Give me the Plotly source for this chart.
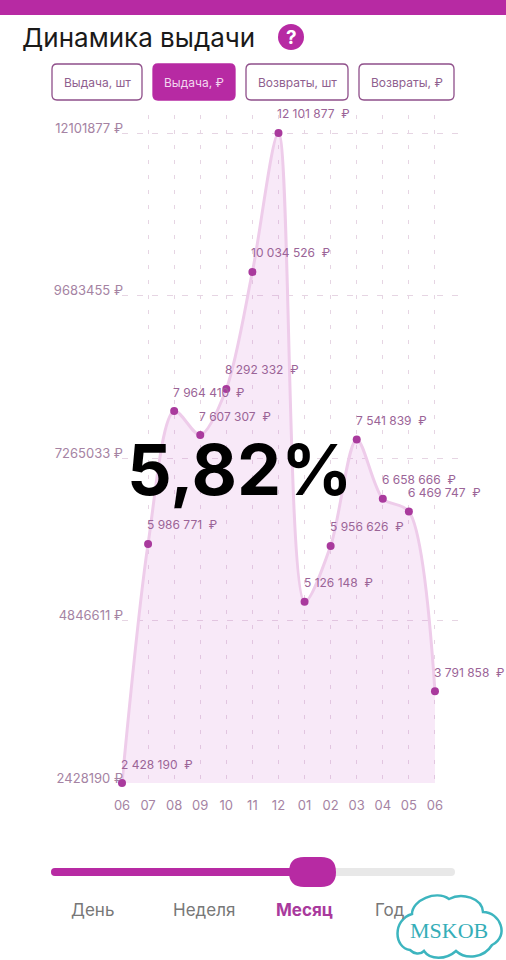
import plotly.graph_objects as go

W, H = 506, 960

months = ["06", "07", "08", "09", "10", "11", "12", "01", "02", "03", "04", "05", "06"]
values = [2428190, 5986771, 7964410, 7607307, 8292332, 10034526, 12101877,
          5126148, 5956626, 7541839, 6658666, 6469747, 3791858]
point_labels = ["2 428 190  ₽", "5 986 771  ₽", "7 964 410  ₽", "7 607 307  ₽", "8 292 332  ₽",
                "10 034 526  ₽", "12 101 877  ₽", "5 126 148  ₽", "5 956 626  ₽", "7 541 839  ₽",
                "6 658 666  ₽", "6 469 747  ₽", "3 791 858  ₽"]
y_ticks = [2428190, 4846611, 7265033, 9683455, 12101877]
y_tick_labels = ["2428190 ₽", "4846611 ₽", "7265033 ₽", "9683455 ₽", "12101877 ₽"]
buttons = ["Выдача, шт", "Выдача, ₽", "Возвраты, шт", "Возвраты, ₽"]
periods = ["День", "Неделя", "Месяц", "Год"]

MAGENTA = "#b72aa3"
TXT = "#9b6497"
FONT = "Inter, Roboto, sans-serif"


def px(x):
    return x / W


def py(y):
    return 1 - y / H


def rr(x0, y0, x1, y1, r):
    return (f"M {px(x0+r)} {py(y0)} L {px(x1-r)} {py(y0)} Q {px(x1)} {py(y0)} {px(x1)} {py(y0+r)} "
            f"L {px(x1)} {py(y1-r)} Q {px(x1)} {py(y1)} {px(x1-r)} {py(y1)} "
            f"L {px(x0+r)} {py(y1)} Q {px(x0)} {py(y1)} {px(x0)} {py(y1-r)} "
            f"L {px(x0)} {py(y0+r)} Q {px(x0)} {py(y0)} {px(x0+r)} {py(y0)} Z")


def note(x, y, text, size, color, anchor="center", family=FONT, bold=False):
    t = f"<b>{text}</b>" if bold else text
    return dict(xref="paper", yref="paper", x=px(x), y=py(y), text=t, showarrow=False,
                xanchor=anchor, yanchor="middle", align="left",
                font=dict(size=size, color=color, family=family))


def box(x0, y0, x1, y1, r, fill, line="rgba(0,0,0,0)", width=0):
    return dict(type="path", xref="paper", yref="paper", path=rr(x0, y0, x1, y1, r),
                fillcolor=fill, line=dict(color=line, width=width))


fig = go.Figure()
fig.add_trace(go.Scatter(
    x=list(range(len(values))), y=values, mode="lines+markers",
    line=dict(shape="spline", smoothing=0.85, color="#eeccea", width=3),
    marker=dict(size=8, color="#a93a9d"),
    fill="tozeroy", fillcolor="rgba(205,110,205,0.15)",
    cliponaxis=False, hoverinfo="skip", showlegend=False,
))

annotations = []
for i, (v, lab) in enumerate(zip(values, point_labels)):
    annotations.append(dict(x=i, y=v, xref="x", yref="y", text=lab, showarrow=False,
                            xanchor="left", yanchor="middle", xshift=-3, yshift=19,
                            font=dict(size=12, color=TXT, family=FONT)))

annotations.append(note(20, 38, "Динамика выдачи", 26, "#1a1a1a", "left", FONT))
annotations.append(note(291, 37, "?", 19, "white", "center", FONT, True))
annotations.append(note(239, 469, "5,82%", 70, "#000000", "center", FONT, True))

shapes = [
    dict(type="rect", xref="paper", yref="paper", x0=0, x1=1, y0=py(15), y1=1,
         fillcolor=MAGENTA, line=dict(width=0)),
    dict(type="circle", xref="paper", yref="paper", x0=px(278), x1=px(304), y0=py(50), y1=py(24),
         fillcolor=MAGENTA, line=dict(width=0)),
]

btn_boxes = [(52, 142), (153, 235), (246, 348), (359, 454)]
for i, (name, (a, b)) in enumerate(zip(buttons, btn_boxes)):
    active = i == 1
    shapes.append(box(a, 64, b, 100, 5, MAGENTA if active else "white",
                      MAGENTA if active else "#8f4f8a", 1.3))
    annotations.append(note((a + b) / 2, 82, name, 12, "#f3d6ef" if active else "#8f5f8f"))

shapes.append(box(51, 868, 455, 876, 4, "#e8e8e8"))
shapes.append(box(51, 868, 300, 876, 4, MAGENTA))
shapes.append(box(289, 857, 336, 887, 15, MAGENTA))

for name, x, active in zip(periods, [92, 204, 304, 390], [False, False, True, False]):
    annotations.append(note(x, 910, name, 17, "#a93a9d" if active else "#777777", bold=active))

cloud = "M {} {} " + " ".join(["C {} {} {} {} {} {}"] * 7) + " Z"
cloud_pts = [(410, 950), (394, 948), (392, 920), (412, 914),
             (412, 900), (436, 890), (449, 899),
             (462, 892), (482, 898), (483, 912),
             (500, 912), (510, 936), (492, 945),
             (484, 958), (466, 960), (456, 951),
             (446, 960), (430, 960), (424, 951),
             (420, 955), (414, 954), (410, 950)]
coords = []
for (a, b) in cloud_pts:
    coords += [px(a), py(b)]
shapes.append(dict(type="path", xref="paper", yref="paper", path=cloud.format(*coords),
                   fillcolor="white", line=dict(color="#3db5bf", width=2.5)))
annotations.append(note(449, 930, "MSKOB", 22, "#35aeb8", "center", "Liberation Serif, serif"))

fig.update_layout(
    width=W, height=H, autosize=False,
    margin=dict(l=0, r=0, t=0, b=0, autoexpand=False),
    paper_bgcolor="white", plot_bgcolor="white",
    showlegend=False,
    font=dict(family=FONT, color=TXT),
    xaxis=dict(domain=[px(122), px(460)], range=[0, 12.96], tickvals=list(range(len(months))),
               ticktext=months, showgrid=True, griddash="4px,11px", gridcolor="#e6d5e3", gridwidth=1,
               zeroline=False, showline=False, ticks="", ticklen=0, tickangle=0, automargin=False,
               tickfont=dict(size=13, color="#a583a3"), ticklabelstandoff=13),
    yaxis=dict(domain=[py(783), py(115)], range=[2428190, 12369771], tickvals=y_ticks,
               ticktext=y_tick_labels, showgrid=True, griddash="6px,9px", gridcolor="#e6d5e3", gridwidth=1,
               zeroline=False, showline=False, ticks="", ticklabelshift=-5, ticklabelstandoff=-2,
               automargin=False, tickfont=dict(size=13, color="#a583a3")),
    shapes=shapes, annotations=annotations,
)

fig.write_html("out.html", config=dict(displayModeBar=False),
               post_script="document.body.style.margin='0';")
